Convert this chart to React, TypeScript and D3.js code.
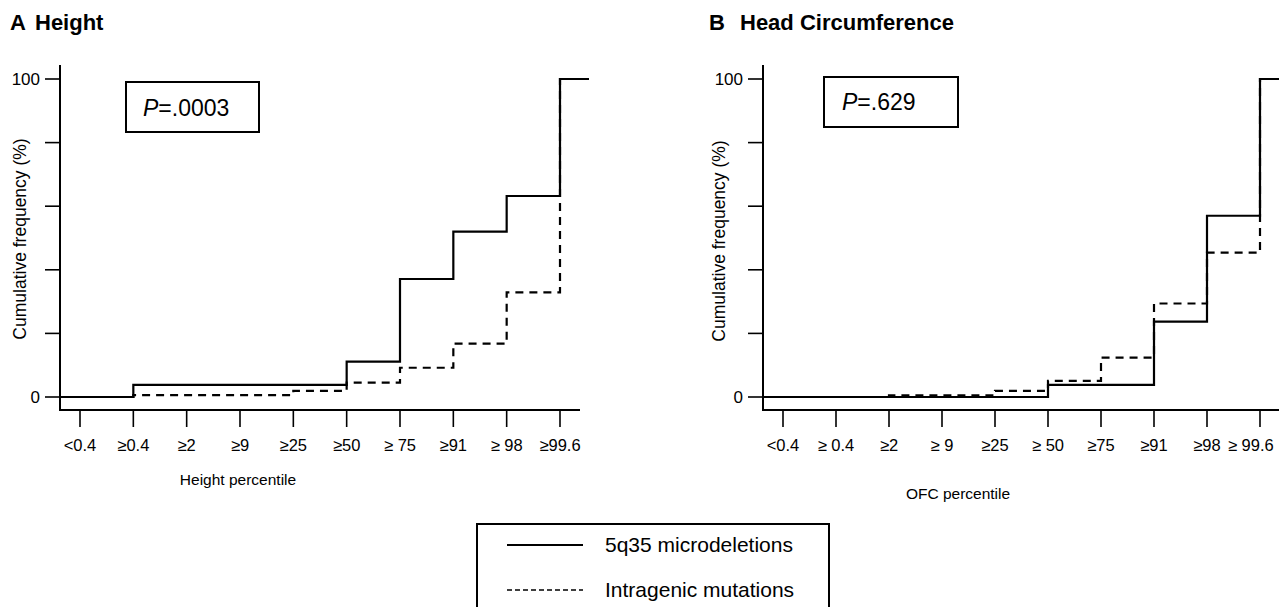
import React from "react";
import * as d3 from "d3";

const W = 1279;
const H = 607;
const FONT = "'Liberation Sans', Arial, Helvetica, sans-serif";

// ---- data ----
const heightCategories = ["<0.4", "≥0.4", "≥2", "≥9", "≥25", "≥50", "≥ 75", "≥91", "≥ 98", "≥99.6"];
const ofcCategories = ["<0.4", "≥ 0.4", "≥2", "≥ 9", "≥25", "≥ 50", "≥75", "≥91", "≥98", "≥ 99.6"];

// cumulative frequency (%) starting at each percentile category
const heightMicrodeletions = [0, 3.8, 3.8, 3.8, 3.8, 11.1, 37.1, 52.0, 63.2, 100];
const heightIntragenic = [0, 0.6, 0.6, 0.6, 1.9, 4.5, 9.2, 16.8, 32.9, 100];
const ofcMicrodeletions = [0, 0, 0, 0, 0, 3.8, 3.8, 23.7, 57.0, 100];
const ofcIntragenic = [0, 0, 0.5, 0.5, 1.9, 5.1, 12.4, 29.4, 45.4, 100];

const yTicks = [0, 20, 40, 60, 80, 100];
const yTickLabels = ["0", "", "", "", "", "100"];

const seriesNames = ["5q35 microdeletions", "Intragenic mutations"];

type Panel = {
  letter: string;
  title: string;
  letterX: number;
  titleX: number;
  xLabel: string;
  xLabelX: number;
  xLabelY: number;
  pValue: string;
  categories: string[];
  solid: number[];
  dashed: number[];
  axisX: number;
  xRange: [number, number];
  xAxisEnd: number;
  stepEnd: number;
  box: { x: number; y: number; w: number; h: number; tx: number; ty: number };
  yLabelX: number;
  yLabelY: number;
};

const panels: Panel[] = [
  {
    letter: "A",
    title: "Height",
    letterX: 10,
    titleX: 35,
    xLabel: "Height percentile",
    xLabelX: 238,
    xLabelY: 485,
    pValue: ".0003",
    categories: heightCategories,
    solid: heightMicrodeletions,
    dashed: heightIntragenic,
    axisX: 60,
    xRange: [80, 560],
    xAxisEnd: 580,
    stepEnd: 589,
    box: { x: 126, y: 82, w: 133, h: 50, tx: 143, ty: 116 },
    yLabelX: 26,
    yLabelY: 239,
  },
  {
    letter: "B",
    title: "Head Circumference",
    letterX: 709,
    titleX: 740,
    xLabel: "OFC percentile",
    xLabelX: 958,
    xLabelY: 499,
    pValue: ".629",
    categories: ofcCategories,
    solid: ofcMicrodeletions,
    dashed: ofcIntragenic,
    axisX: 763,
    xRange: [783, 1260],
    xAxisEnd: 1279,
    stepEnd: 1300,
    box: { x: 824, y: 77, w: 134, h: 50, tx: 842, ty: 110 },
    yLabelX: 725,
    yLabelY: 241,
  },
];

const yScale = d3.scaleLinear().domain([0, 100]).range([397, 79]);
const xAxisY = 410;
const TICK_FONT = 16.5;

function PanelView({ p }: { p: Panel }) {
  const x = d3.scalePoint<string>().domain(p.categories).range(p.xRange);
  const pts = (vals: number[]) => [
    [p.axisX, vals[0]] as [number, number],
    ...vals.map((v, i) => [x(p.categories[i]) as number, v] as [number, number]),
    [p.stepEnd, vals[vals.length - 1]] as [number, number],
  ];
  const line = d3
    .line<[number, number]>()
    .x((d) => d[0])
    .y((d) => yScale(d[1]))
    .curve(d3.curveStepAfter);
  const labelX = (c: string) => {
    const half = (c.length * 0.55 * TICK_FONT) / 2;
    return Math.min(x(c) as number, W - half - 1);
  };
  return (
    <g>
      <text x={p.letterX} y={30} fontFamily={FONT} fontWeight="bold" fontSize={22}>
        {p.letter}
      </text>
      <text x={p.titleX} y={30} fontFamily={FONT} fontWeight="bold" fontSize={22}>
        {p.title}
      </text>
      {/* y axis */}
      <line x1={p.axisX} x2={p.axisX} y1={65} y2={xAxisY + 1} stroke="#000" strokeWidth={2} />
      {yTicks.map((t, i) => (
        <g key={t}>
          <line x1={p.axisX - 15} x2={p.axisX} y1={yScale(t)} y2={yScale(t)} stroke="#000" strokeWidth={1.6} />
          {yTickLabels[i] && (
            <text
              x={p.axisX - 20}
              y={yScale(t)}
              dy="0.35em"
              textAnchor="end"
              fontFamily={FONT}
              fontSize={17}
            >
              {yTickLabels[i]}
            </text>
          )}
        </g>
      ))}
      <text
        transform={`translate(${p.yLabelX},${p.yLabelY}) rotate(-90)`}
        textAnchor="middle"
        fontFamily={FONT}
        fontSize={17.5}
      >
        Cumulative frequency (%)
      </text>
      {/* x axis */}
      <line x1={p.axisX - 1} x2={p.xAxisEnd} y1={xAxisY} y2={xAxisY} stroke="#000" strokeWidth={2} />
      {p.categories.map((c) => (
        <g key={c}>
          <line x1={x(c)} x2={x(c)} y1={xAxisY} y2={xAxisY + 17} stroke="#000" strokeWidth={1.6} />
          <text
            x={labelX(c)}
            y={xAxisY + 35}
            dy="0.35em"
            textAnchor="middle"
            fontFamily={FONT}
            fontSize={TICK_FONT}
          >
            {c}
          </text>
        </g>
      ))}
      <text x={p.xLabelX} y={p.xLabelY} textAnchor="middle" fontFamily={FONT} fontSize={15.5}>
        {p.xLabel}
      </text>
      {/* step lines */}
      <path d={line(pts(p.dashed)) || ""} fill="none" stroke="#000" strokeWidth={2.2} strokeDasharray="8,6" />
      <path d={line(pts(p.solid)) || ""} fill="none" stroke="#000" strokeWidth={2.2} />
      {/* P value box */}
      <rect x={p.box.x} y={p.box.y} width={p.box.w} height={p.box.h} fill="#fff" stroke="#000" strokeWidth={2} />
      <text x={p.box.tx} y={p.box.ty} fontFamily={FONT} fontSize={23}>
        <tspan fontStyle="italic">P</tspan>={p.pValue}
      </text>
    </g>
  );
}

export default function App() {
  return (
    <div style={{ position: "absolute", left: 0, top: 0 }}>
      <svg width={W} height={H} style={{ display: "block", background: "#fff" }}>
        <rect width={W} height={H} fill="#fff" />
        {panels.map((p) => (
          <PanelView key={p.letter} p={p} />
        ))}
        {/* legend */}
        <rect x={477} y={524} width={352} height={100} fill="#fff" stroke="#000" strokeWidth={2} />
        <line x1={507} x2={583} y1={545} y2={545} stroke="#000" strokeWidth={2} />
        <line x1={507} x2={583} y1={590} y2={590} stroke="#000" strokeWidth={1.6} strokeDasharray="5,3" />
        <text x={605} y={552} fontFamily={FONT} fontSize={21}>
          {seriesNames[0]}
        </text>
        <text x={605} y={597} fontFamily={FONT} fontSize={21}>
          {seriesNames[1]}
        </text>
      </svg>
    </div>
  );
}
